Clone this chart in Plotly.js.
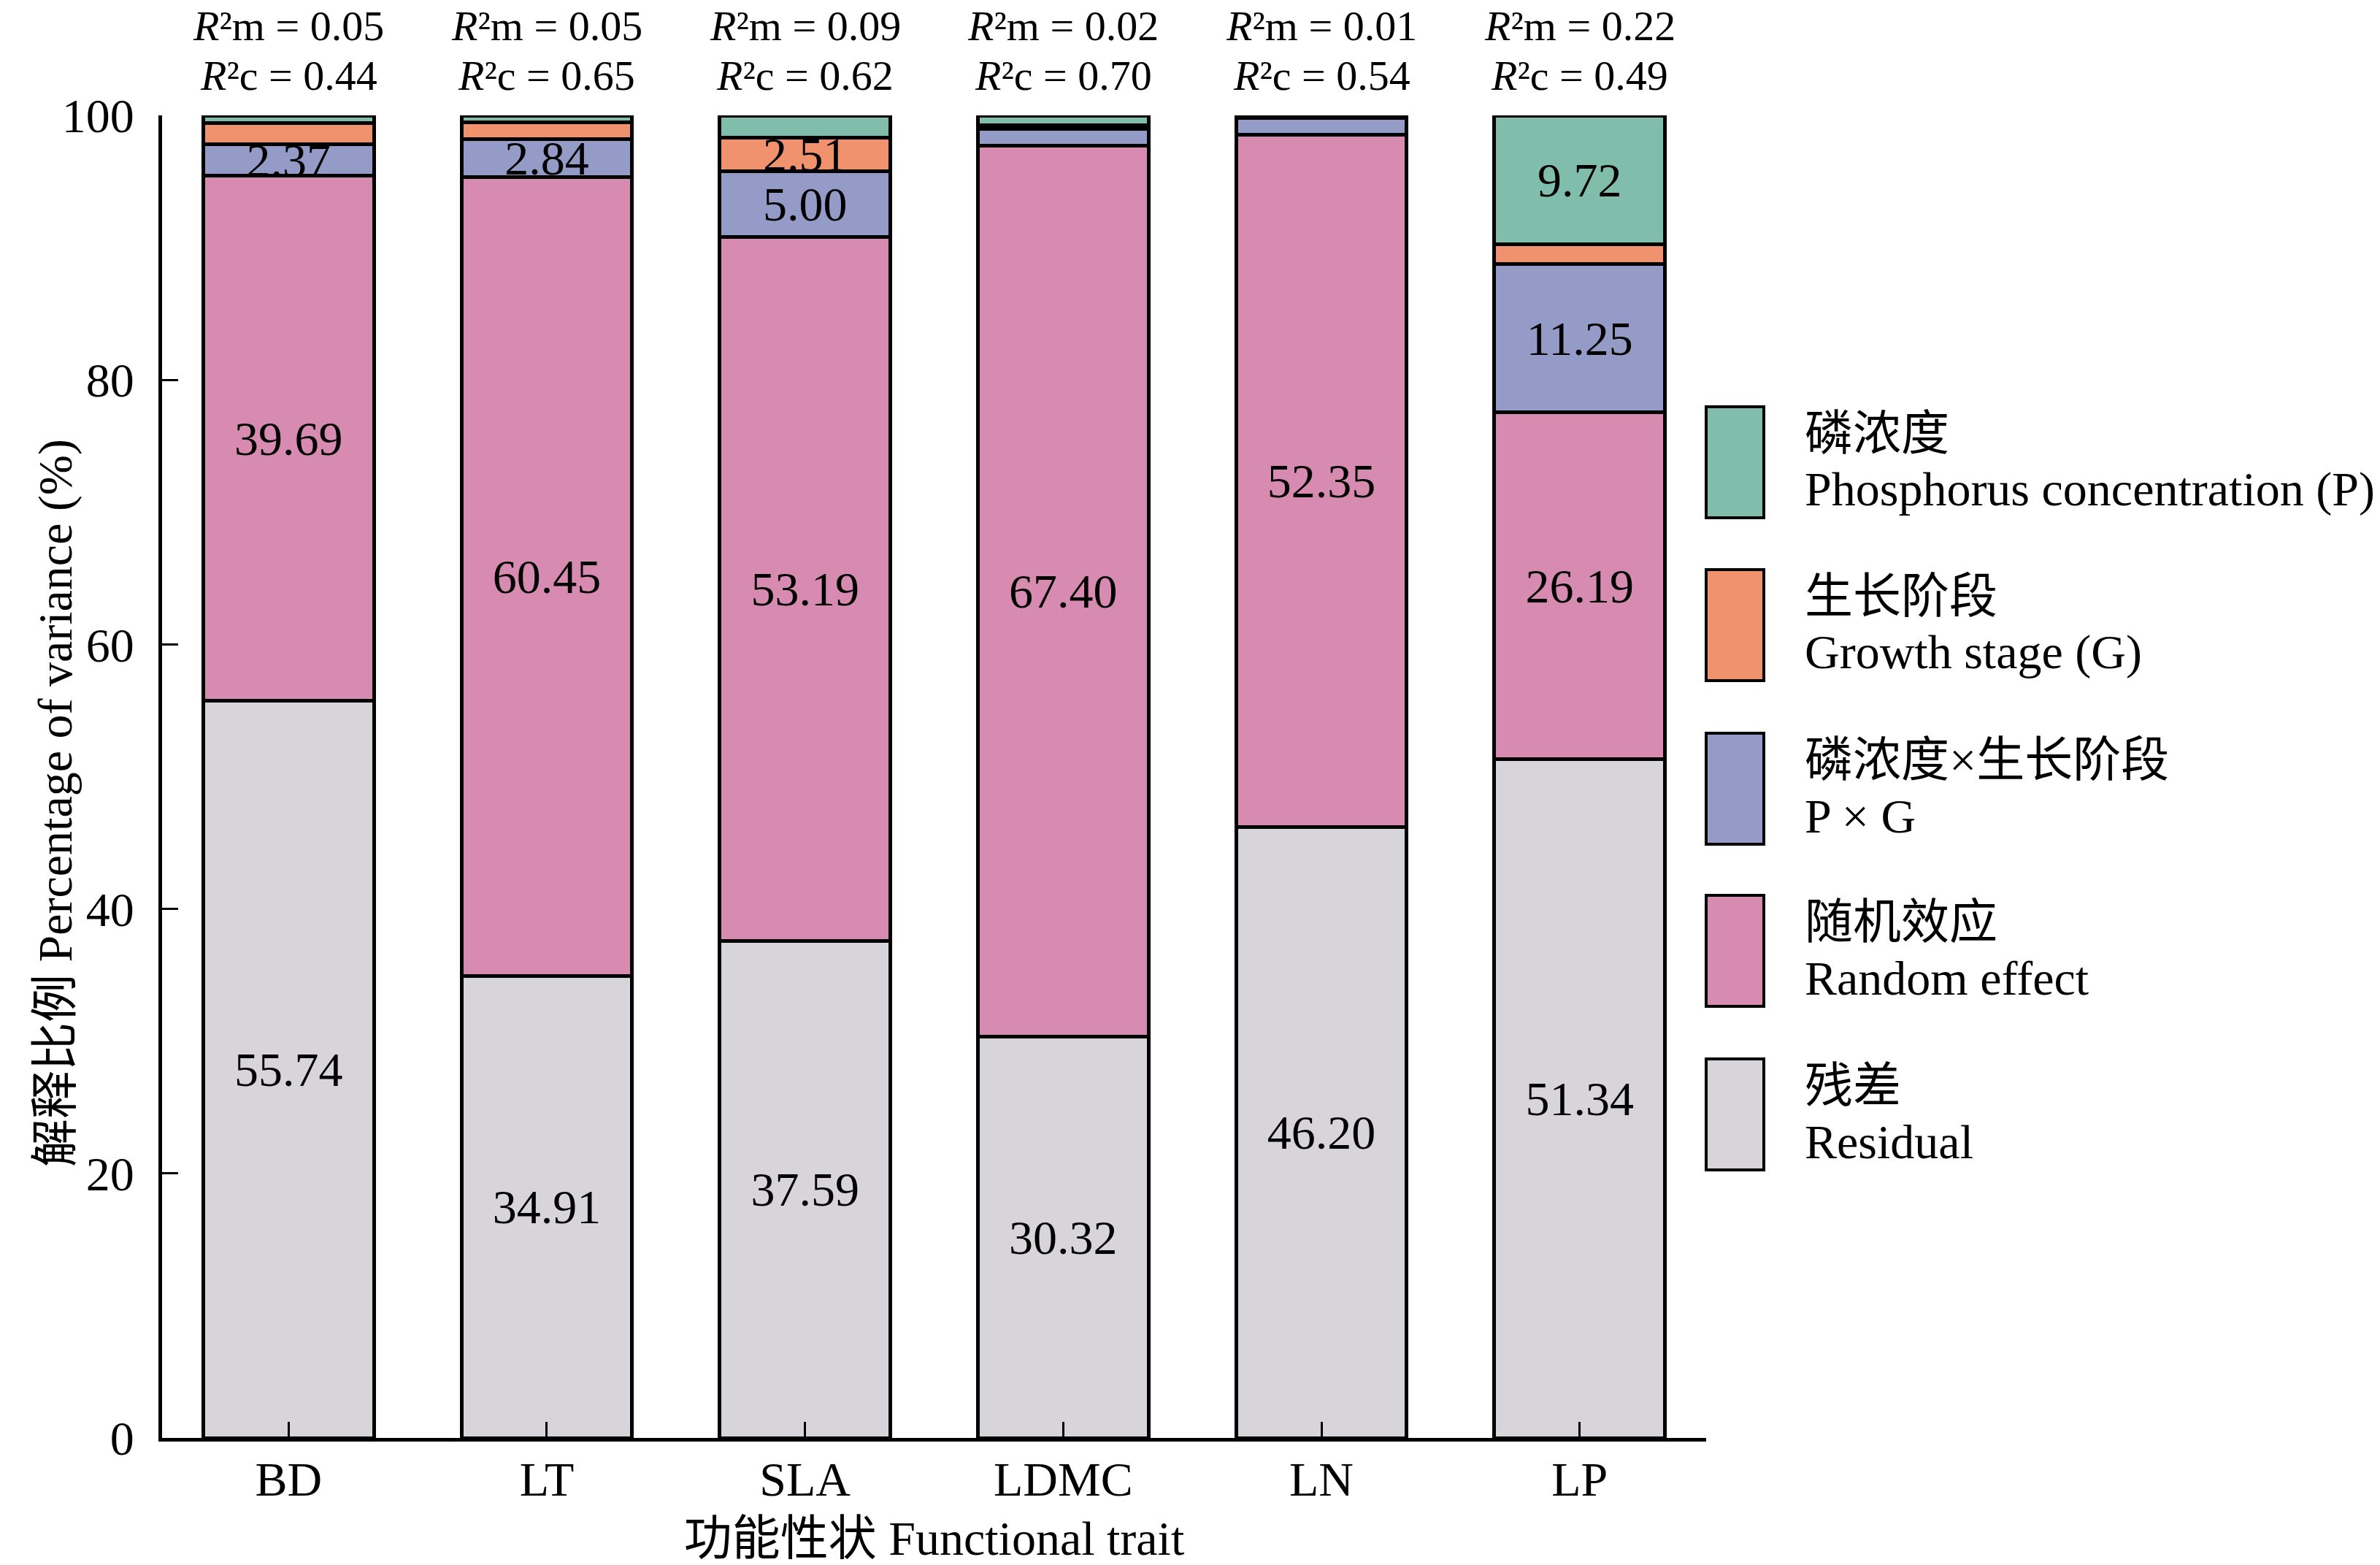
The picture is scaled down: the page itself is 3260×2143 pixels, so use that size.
<!DOCTYPE html>
<html>
<head>
<meta charset="utf-8">
<script src="https://cdn.plot.ly/plotly-3.0.1.min.js"></script>
<style>
  html, body { margin: 0; padding: 0; background: #fff; }
  #plot { width: 3260px; height: 2143px; }
</style>
</head>
<body>
<div id="plot"></div>
<script>
// functional traits on the x axis
var traits = ["BD", "LT", "SLA", "LDMC", "LN", "LP"];

// percentage of variance for each component (bottom to top)
var residual  = [55.74, 34.91, 37.59, 30.32, 46.20, 51.34];
var randomEff = [39.69, 60.45, 53.19, 67.40, 52.35, 26.19];
var pxg       = [2.37, 2.84, 5.00, 1.28, 1.25, 11.25];
var growth    = [1.60, 1.25, 2.51, 0.25, 0.10, 1.50];
var phos      = [0.60, 0.55, 1.71, 0.75, 0.10, 9.72];

// marginal / conditional R2 shown above the bars
var r2m = ["0.05", "0.05", "0.09", "0.02", "0.01", "0.22"];
var r2c = ["0.44", "0.65", "0.62", "0.70", "0.54", "0.49"];

// legend text: Chinese line, English line
var namesCn = ["残差", "随机效应", "磷浓度×生长阶段", "生长阶段", "磷浓度"];
var namesEn = ["Residual", "Random effect", "P × G", "Growth stage (G)", "Phosphorus concentration (P)"];
var seriesColors = ["#d7d5d9", "#d88bb0", "#949bc6", "#f0926e", "#80bdab"];

var FONT = "Liberation Serif, Times New Roman, Noto Sans CJK SC, serif";
var FS = 66;

// page geometry (px)
var W = 3260, H = 2143;
var mL = 222, mR = 923, mT = 158, mB = 174;
var plotW = W - mL - mR, plotH = H - mT - mB;
function px2x(px) { return (px - mL) / plotW; }
function px2y(py) { return (H - mB - py) / plotH; }

// only segments of 2 % or more carry a label
function labels(vals) {
  return vals.map(function (v) { return v.toFixed(2); });
}
function labelPos(vals) {
  return vals.map(function (v) { return v >= 2 ? "inside" : "none"; });
}

var allSeries = [residual, randomEff, pxg, growth, phos];
var data = allSeries.map(function (vals, i) {
  return {
    type: "bar",
    x: traits,
    y: vals,
    name: namesEn[i],
    width: 0.66,
    marker: { color: seriesColors[i], line: { color: "#000", width: 5 } },
    text: labels(vals),
    textposition: labelPos(vals),
    insidetextanchor: "middle",
    constraintext: "none",
    textangle: 0,
    textfont: { family: FONT, size: FS, color: "#000" },
    hoverinfo: "x+y",
    cliponaxis: false
  };
});

var annotations = [];
var shapes = [];

// R2 values above each bar (two lines)
traits.forEach(function (t, i) {
  annotations.push({
    x: t, xref: "x",
    y: px2y(36), yref: "paper", yanchor: "middle",
    showarrow: false,
    text: "<i>R</i>²m = " + r2m[i],
    font: { family: FONT, size: 58, color: "#000" }
  });
  annotations.push({
    x: t, xref: "x",
    y: px2y(104), yref: "paper", yanchor: "middle",
    showarrow: false,
    text: "<i>R</i>²c = " + r2c[i],
    font: { family: FONT, size: 58, color: "#000" }
  });
});

// y axis title, placed by hand
annotations.push({
  x: px2x(37), xref: "paper",
  y: px2y(1100), yref: "paper",
  textangle: -90,
  showarrow: false,
  text: "解释比例 Percentage of variance (%)",
  font: { family: FONT, size: FS, color: "#000" }
});

// hand-drawn legend on the right (large boxes)
var legendOrder = [4, 3, 2, 1, 0];
var boxCenters = [633, 856, 1080, 1302, 1526];
legendOrder.forEach(function (si, k) {
  var cy = boxCenters[k];
  shapes.push({
    type: "rect", xref: "paper", yref: "paper",
    x0: px2x(2337), x1: px2x(2416),
    y0: px2y(cy + 76), y1: px2y(cy - 76),
    fillcolor: seriesColors[si],
    line: { color: "#000", width: 4 }
  });
  annotations.push({
    x: px2x(2470), xref: "paper",
    y: px2y(cy - 40), yref: "paper",
    xanchor: "left", yanchor: "middle",
    showarrow: false,
    text: namesCn[si],
    font: { family: FONT, size: FS, color: "#000" }
  });
  annotations.push({
    x: px2x(2470), xref: "paper",
    y: px2y(cy + 37), yref: "paper",
    xanchor: "left", yanchor: "middle",
    showarrow: false,
    text: namesEn[si],
    font: { family: FONT, size: FS, color: "#000" }
  });
});

var layout = {
  width: W, height: H,
  margin: { l: mL, r: mR, t: mT, b: mB, pad: 0 },
  paper_bgcolor: "#fff",
  plot_bgcolor: "#fff",
  barmode: "stack",
  showlegend: false,
  font: { family: FONT, size: FS, color: "#000" },
  xaxis: {
    range: [-0.49, 5.49],
    showline: true, linecolor: "#000", linewidth: 5,
    ticks: "inside", ticklen: 22, tickwidth: 3, tickcolor: "#000",
    ticklabelstandoff: -5,
    tickfont: { family: FONT, size: FS, color: "#000" },
    showgrid: false, zeroline: false,
    title: { text: "功能性状 Functional trait", font: { family: FONT, size: FS, color: "#000" }, standoff: 24 }
  },
  yaxis: {
    range: [0, 100],
    tickvals: [0, 20, 40, 60, 80, 100],
    showline: true, linecolor: "#000", linewidth: 5,
    ticks: "inside", ticklen: 22, tickwidth: 3, tickcolor: "#000",
    ticklabelstandoff: 20,
    tickfont: { family: FONT, size: FS, color: "#000" },
    showgrid: false, zeroline: false
  },
  annotations: annotations,
  shapes: shapes
};

Plotly.newPlot("plot", data, layout, { staticPlot: true });
</script>
</body>
</html>
